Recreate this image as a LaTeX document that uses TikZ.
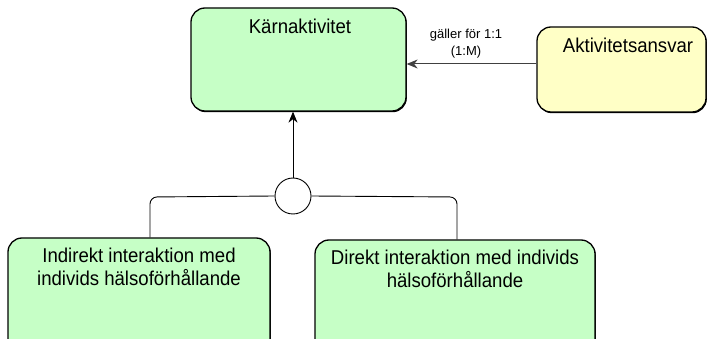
\documentclass[tikz,border=0pt]{standalone}
\usepackage{fontspec}
\setmainfont{Liberation Sans}
\newfontfamily\boxfont[FakeStretch=0.93]{Liberation Sans}
\usetikzlibrary{arrows.meta,shadows}
\definecolor{boxgreen}{RGB}{198,255,198}
\definecolor{boxyellow}{RGB}{255,255,198}
\definecolor{arrgrey}{RGB}{64,64,64}
\begin{document}
\begin{tikzpicture}[x=1pt,y=-1pt,
  box/.style={draw=black, line width=1.3pt, rounded corners=14pt, inner sep=0pt,
    drop shadow={shadow xshift=0.8pt, shadow yshift=-1.2pt, fill=black, opacity=1}},
  gbox/.style={box, fill=boxgreen},
  ybox/.style={box, fill=boxyellow},
  txt/.style={font=\boxfont\fontsize{20}{23}\selectfont, align=center, inner sep=0pt},
  lbl/.style={font=\fontsize{13}{17}\selectfont, align=center, inner sep=0pt},
  conn/.style={draw=black, line width=0.9pt},
  arr/.style={-{Stealth[length=11pt,width=9pt,inset=3.5pt]}}
]
\useasboundingbox (0,0) rectangle (710,339);
\clip (0,0) rectangle (710,339);
\fill[white] (0,0) rectangle (710,339);

% boxes
\node[gbox, minimum width=215pt, minimum height=103pt] (kern) at (298.5,59.5) {};
\node[ybox, minimum width=169pt, minimum height=85pt] (resp) at (621.5,69.5) {};
\node[gbox, minimum width=262pt, minimum height=115pt] (indir) at (139,295.5) {};
\node[gbox, minimum width=280pt, minimum height=113pt] (direkt) at (455,296.5) {};

% texts
\node[txt] (kernt) at (300,26) {Kärnaktivitet};
\node[txt] (respt) at (628,45) {Aktivitetsansvar};
\node[txt] (indirt) at (139,266.5) {Indirekt interaktion med\\individs hälsoförhållande};
\node[txt] (direktt) at (455,269) {Direkt interaktion med individs\\hälsoförhållande};

% relation arrow
\draw[arr, draw=arrgrey, fill=black, line width=1pt] (resp.west |- 0,64) -- (kern.east |- 0,64);
\node[lbl] (rel) at (466,44) {gäller för 1:1\\(1:M)};

% junction
\node[circle, draw=black, fill=white, line width=0.9pt, minimum size=36pt, inner sep=0pt] (junc) at (293,196) {};
\draw[conn, arr] (junc.north) -- (junc.north |- kern.south);
\coordinate (lc) at (150,197);
\coordinate (rc) at (457,197);
\draw[conn, rounded corners=7pt] (junc.west) -- (lc) -- (lc |- indir.north);
\draw[conn, rounded corners=7pt] (junc.east) -- (rc) -- (rc |- direkt.north);
\end{tikzpicture}
\end{document}
